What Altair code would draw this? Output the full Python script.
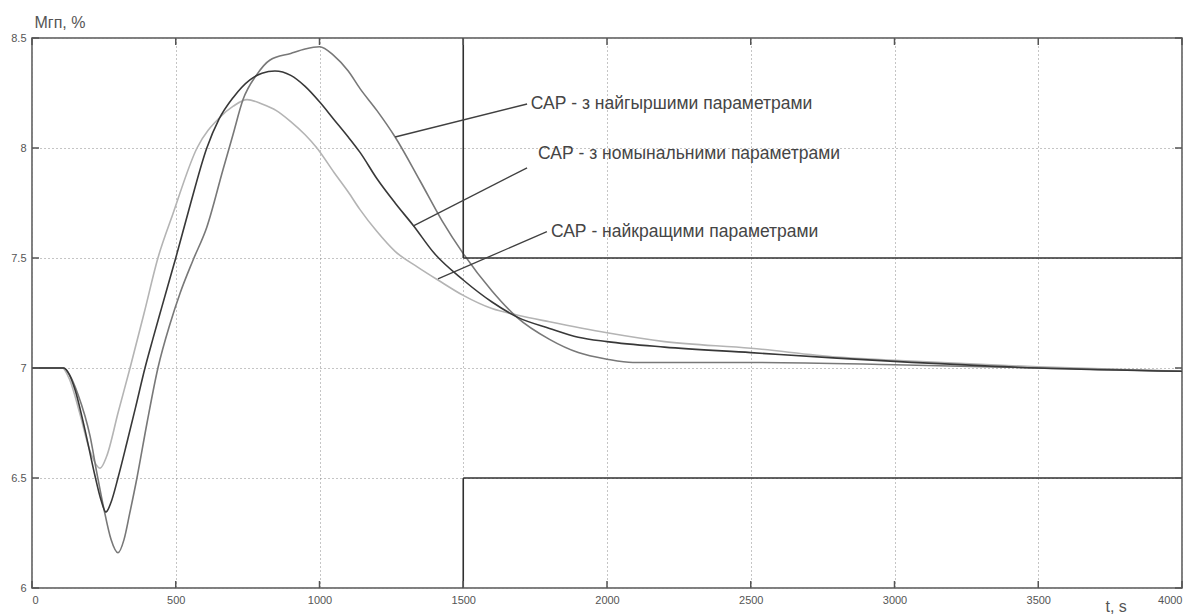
import altair as alt
import pandas as pd

# Transient of Мгп (%) after a load step, three controller settings
best_t = [0, 105, 130, 167, 200, 237, 260, 300, 341, 390, 438, 490, 574, 654, 700, 748, 800, 850,
          900, 950, 991, 1050, 1100, 1141, 1200, 1263, 1340, 1412, 1500, 1600, 1690, 1800, 2000,
          2200, 2500, 2800, 3000, 3500, 4000]
best_v = [7.0, 7.0, 6.95, 6.79, 6.63, 6.545, 6.6, 6.8, 7.0, 7.25, 7.5, 7.7, 8.0, 8.14, 8.19,
          8.22, 8.2, 8.17, 8.12, 8.06, 8.0, 7.89, 7.8, 7.72, 7.62, 7.53, 7.46, 7.4, 7.33, 7.27,
          7.24, 7.21, 7.16, 7.12, 7.09, 7.05, 7.035, 7.005, 6.985]

worst_t = [0, 110, 130, 160, 202, 226, 250, 275, 299, 320, 340, 365, 400, 438, 480, 515, 560, 608,
           664, 699, 734, 780, 828, 900, 950, 1000, 1050, 1100, 1141, 1200, 1263, 1350, 1426, 1500,
           1600, 1687, 1800, 1900, 2000, 2090, 2500, 3000, 3500, 4000]
worst_v = [7.0, 7.0, 6.97, 6.88, 6.69, 6.52, 6.36, 6.22, 6.16, 6.22, 6.34, 6.5, 6.75, 7.0, 7.2,
           7.34, 7.49, 7.64, 7.9, 8.06, 8.22, 8.33, 8.40, 8.43, 8.45, 8.46, 8.42, 8.35, 8.27, 8.17,
           8.05, 7.85, 7.67, 7.52, 7.35, 7.23, 7.13, 7.07, 7.04, 7.025, 7.025, 7.015, 7.0, 6.985]

nominal_t = [0, 110, 130, 150, 184, 219, 240, 257, 275, 299, 330, 360, 393, 420, 450, 500, 550,
             608, 650, 700, 758, 800, 845, 900, 950, 1000, 1050, 1100, 1141, 1200, 1263, 1325,
             1400, 1500, 1600, 1690, 1800, 1900, 2000, 2200, 2500, 2800, 3000, 3500, 4000]
nominal_v = [7.0, 7.0, 6.97, 6.9, 6.72, 6.51, 6.4, 6.345, 6.39, 6.5, 6.66, 6.82, 7.0, 7.13, 7.27,
             7.5, 7.74, 8.0, 8.13, 8.23, 8.31, 8.34, 8.35, 8.33, 8.28, 8.21, 8.13, 8.05, 7.98,
             7.86, 7.75, 7.65, 7.52, 7.4, 7.3, 7.23, 7.18, 7.14, 7.12, 7.095, 7.07, 7.045, 7.03,
             7.0, 6.985]

series_keys = ["best", "worst", "nominal"]
series_colors = ["#b4b4b4", "#787878", "#383838"]

# Tolerance band: segments (t1, v1, t2, v2)
band_t1 = [1500, 1500, 1500, 1500]
band_v1 = [8.5, 7.5, 6.0, 6.5]
band_t2 = [1500, 4000, 1500, 4000]
band_v2 = [7.5, 7.5, 6.5, 6.5]

# Callout labels and their leader lines
label_texts = ["САР - з найгыршими параметрами",
               "САР - з номынальними параметрами",
               "САР - найкращими параметрами"]
label_t = [1735, 1760, 1805]
label_v = [8.2, 7.975, 7.62]
leader_t1 = [1263, 1325, 1412]
leader_v1 = [8.05, 7.645, 7.405]
leader_t2 = [1722, 1722, 1791]
leader_v2 = [8.2, 7.91, 7.62]

x_ticks = [0, 500, 1000, 1500, 2000, 2500, 3000, 3500, 4000]
y_ticks = [6, 6.5, 7, 7.5, 8, 8.5]

W, H = 1150, 550
TICK_LEN = 7
FRAME = "#555555"
TEXT_GREY = "#555555"

curves_df = pd.concat([
    pd.DataFrame({"t": ts, "v": vs, "series": key, "idx": range(len(ts))})
    for key, ts, vs in [("best", best_t, best_v), ("worst", worst_t, worst_v),
                        ("nominal", nominal_t, nominal_v)]
], ignore_index=True)

band_df = pd.DataFrame({"t": band_t1, "v": band_v1, "t2": band_t2, "v2": band_v2})
leader_df = pd.DataFrame({"t": leader_t1, "v": leader_v1, "t2": leader_t2, "v2": leader_v2})
label_df = pd.DataFrame({"t": label_t, "v": label_v, "text": label_texts})
xt_df = pd.DataFrame({"t": x_ticks})
yt_df = pd.DataFrame({"v": y_ticks})

xs = alt.Scale(domain=[0, 4000], nice=False, zero=False)
ys = alt.Scale(domain=[6, 8.5], nice=False, zero=False)

label_font = "Liberation Sans Narrow, Liberation Sans, Arial, sans-serif"
text_font = "Liberation Sans, Arial, sans-serif"

x_axis = alt.Axis(values=x_ticks, labelExpr="datum.value", title="t, s",
                  titleX=1073, titleY=18, titleAlign="left", titleBaseline="middle",
                  titleFontSize=16, titleFontWeight="normal", titleColor=TEXT_GREY,
                  titleFont=text_font,
                  labelFont=label_font, labelFontSize=11, labelColor=TEXT_GREY,
                  labelPadding=6, grid=True, gridColor="#8a8a8a", gridDash=[1, 3],
                  gridWidth=1, gridOpacity=1, domain=False, ticks=False)
y_axis = alt.Axis(values=y_ticks, labelExpr="datum.value", title="Мгп, %",
                  titleAngle=0, titleX=2, titleY=-16, titleAlign="left",
                  titleBaseline="middle", titleFontSize=16, titleFontWeight="normal",
                  titleColor=TEXT_GREY, titleFont=text_font,
                  labelFont=label_font, labelFontSize=11, labelColor=TEXT_GREY,
                  labelPadding=6, grid=True, gridColor="#8a8a8a", gridDash=[1, 3],
                  gridWidth=1, gridOpacity=1, domain=False, ticks=False)

# every layer shares the same scale and axis definitions
X = lambda f: alt.X(f, scale=xs, axis=x_axis)
Y = lambda f: alt.Y(f, scale=ys, axis=y_axis)

curves = alt.Chart(curves_df).mark_line(strokeWidth=1.6, interpolate="monotone").encode(
    x=X("t:Q"),
    y=Y("v:Q"),
    color=alt.Color("series:N", scale=alt.Scale(domain=series_keys, range=series_colors),
                    legend=None),
    order="idx:Q",
)

band = alt.Chart(band_df).mark_rule(color="#303030", strokeWidth=1.6).encode(
    x=X("t:Q"), y=Y("v:Q"), x2="t2:Q", y2="v2:Q",
)

leaders = alt.Chart(leader_df).mark_rule(color="#404040", strokeWidth=1.3).encode(
    x=X("t:Q"), y=Y("v:Q"), x2="t2:Q", y2="v2:Q",
)

labels = alt.Chart(label_df).mark_text(
    align="left", baseline="middle", fontSize=17.5, color="#454545", font=text_font,
).encode(
    x=X("t:Q"), y=Y("v:Q"), text="text:N",
)

# inward tick marks on all four sides of the frame
tick_style = dict(color=FRAME, strokeWidth=1.5)
ticks_bottom = alt.Chart(xt_df).mark_rule(**tick_style).encode(
    x=X("t:Q"), y=alt.value(H), y2=alt.value(H - TICK_LEN))
ticks_top = alt.Chart(xt_df).mark_rule(**tick_style).encode(
    x=X("t:Q"), y=alt.value(0), y2=alt.value(TICK_LEN))
ticks_left = alt.Chart(yt_df).mark_rule(**tick_style).encode(
    y=Y("v:Q"), x=alt.value(0), x2=alt.value(TICK_LEN))
ticks_right = alt.Chart(yt_df).mark_rule(**tick_style).encode(
    y=Y("v:Q"), x=alt.value(W), x2=alt.value(W - TICK_LEN))

chart = alt.layer(
    curves, band, leaders, labels, ticks_bottom, ticks_top, ticks_left, ticks_right
).properties(
    width=W, height=H,
    autosize=alt.AutoSizeParams(type="none"),
    padding={"left": 32, "top": 38, "right": 10, "bottom": 27},
    background="white",
).configure_view(
    stroke=FRAME, strokeWidth=1.5,
).configure_axis(
    labelColor=TEXT_GREY, titleColor=TEXT_GREY,
)

chart.save("out.html", embed_options={"renderer": "svg", "actions": False})
